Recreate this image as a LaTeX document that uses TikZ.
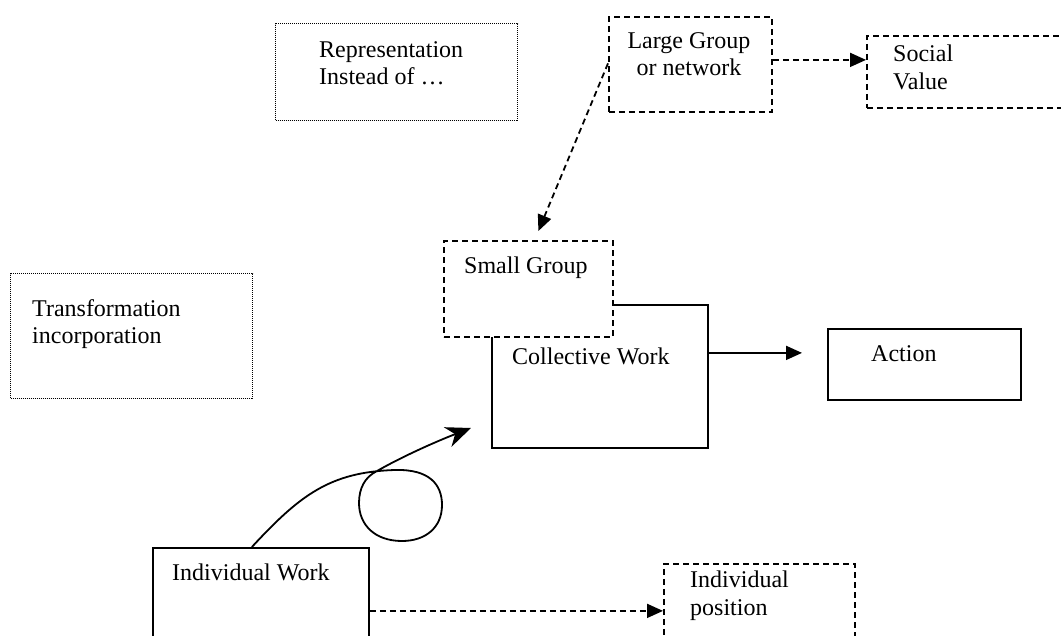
\documentclass[tikz,border=0pt]{standalone}
\usepackage{fontspec}
\setmainfont{Liberation Serif}
\usetikzlibrary{arrows.meta,calc,positioning}

\begin{document}
\begin{tikzpicture}[x=1pt,y=-1pt,
    every node/.style={font=\fontsize{24}{27.5}\selectfont},
    box/.style={rectangle, inner sep=0pt, anchor=north west},
    solidbox/.style={box, draw, line width=1.8pt},
    dashbox/.style={box, draw, line width=1.8pt, dash pattern=on 6pt off 4pt},
    dotbox/.style={box, draw, line width=1.3pt, dash pattern=on 1pt off 1pt},
    txt/.style={inner sep=0pt, anchor=north west, align=left},
    tip/.style={-{Triangle[length=16pt,width=14pt]}},
    solidarrow/.style={tip, line width=1.8pt},
    dasharrow/.style={tip, line width=1.8pt, dash pattern=on 6pt off 4pt}]
  \useasboundingbox (0,0) rectangle (1061,636);

  % boxes
  \node[dotbox, minimum width=242, minimum height=97] (rep) at (275,23) {};
  \node[dashbox, minimum width=163, minimum height=95] (lg) at (608,16) {};
  \node[dashbox, minimum width=200, minimum height=72] (sv) at (866,35) {};
  \node[dotbox, minimum width=242, minimum height=125] (tr) at (10,273) {};
  \node[solidbox, minimum width=216, minimum height=143] (cw) at (491,304) {};
  \node[dashbox, fill=white, minimum width=169, minimum height=96] (sg) at (443,240) {};
  \node[solidbox, minimum width=193, minimum height=71] (act) at (827,328) {};
  \node[solidbox, minimum width=216, minimum height=126] (iw) at (152,547) {};
  \node[dashbox, minimum width=191, minimum height=73] (ip) at (663,563) {};

  % labels
  \node[txt] (repText) at (319,41) {Representation\\Instead of …};
  \node[txt, anchor=north, align=center] (lgText) at (689,32) {Large Group\\or network};
  \node[txt] (svText) at (893,45) {Social\\Value};
  \node[txt] (trText) at (32,299) {Transformation\\incorporation};
  \node[txt] (sgText) at (464,257) {Small Group};
  \node[txt] (cwText) at (512,348) {Collective Work};
  \node[txt] (actText) at (871,345) {Action};
  \node[txt] (iwText) at (172,564) {Individual Work};
  \node[txt] (ipText) at (690,571) {Individual\\position};

  % connectors
  \coordinate (lgOut) at ([yshift=4.5pt]lg.east);
  \draw[dasharrow] (lgOut) -- (lgOut -| sv.west);
  \draw[dasharrow] ([yshift=1pt]lg.west) -- ([xshift=10pt,yshift=9pt]sg.north);
  \coordinate (cwOut) at ([yshift=23.5pt]cw.east);
  \draw[solidarrow] (cwOut) -- ($(cwOut -| act.west)+(-25,0)$);
  \draw[dasharrow] (iw.east) -- (iw.east -| ip.west);

  % loop from individual to collective work
  \coordinate (loopEnd) at (471,428);
  \draw[line width=1.8pt, -{Stealth[length=25pt,width=21pt,inset=8pt]}]
    ([xshift=-9pt]iw.north) .. controls (300,495) and (330,472) .. (395,470)
    .. controls (430,469) and (442,485) .. (442,505)
    .. controls (442,528) and (425,541) .. (402,541)
    .. controls (375,541) and (359,525) .. (359,503)
    .. controls (359,488) and (365,477) .. (377,471)
    .. controls (405,455) and (440,440) .. (loopEnd);
\end{tikzpicture}
\end{document}
